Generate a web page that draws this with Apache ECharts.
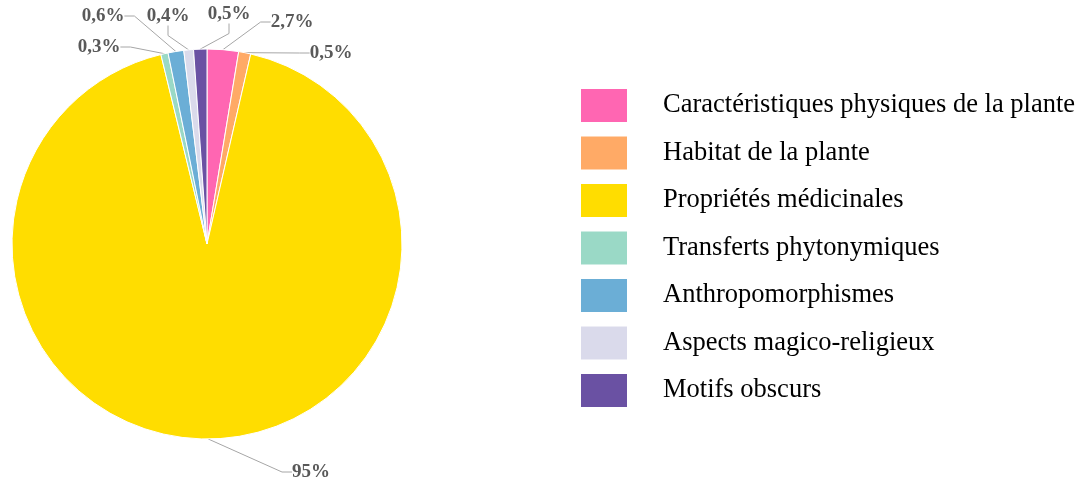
<!DOCTYPE html>
<html>
<head>
<meta charset="utf-8">
<script src="https://cdn.jsdelivr.net/npm/echarts@6/dist/echarts.min.js"></script>
<style>
  html, body { margin: 0; padding: 0; background: #fff; }
  #chart { width: 1086px; height: 483px; }
</style>
</head>
<body>
<div id="chart"></div>
<script>
// categories, clockwise from 12 o'clock
const categories = [
  'Caractéristiques physiques de la plante',
  'Habitat de la plante',
  'Propriétés médicinales',
  'Transferts phytonymiques',
  'Anthropomorphismes',
  'Aspects magico-religieux',
  'Motifs obscurs'
]
// slice sizes as drawn in the picture (%)
const shares = [2.6, 1.0, 92.6, 0.6, 1.3, 0.8, 1.1]
// percent labels as printed on the picture
const printedLabels = ['2,7%', '0,5%', '95%', '0,3%', '0,6%', '0,4%', '0,5%']
const colors = ['#FF66B2', '#FFAA66', '#FFDD00', '#9AD9C6', '#6BAED6', '#DADAEB', '#6A51A3']

// where each percent label sits (label centre, px)
const labelSpots = [[292, 22], [331, 53], [311, 472], [99, 47], [103, 16], [168, 16], [229, 14]]

let myChart = echarts.init(document.getElementById('chart'))

myChart.setOption({
  animation: false,
  color: colors,
  legend: {
    orient: 'vertical',
    left: 579,
    top: 87,
    padding: 0,
    itemWidth: 48,
    itemHeight: 35,
    itemGap: 10.5,
    icon: 'rect',
    selectedMode: false,
    textStyle: {
      fontFamily: 'Liberation Serif',
      fontSize: 26.5,
      color: '#000',
      padding: [0, 0, 0, 30]
    },
    data: categories
  },
  series: [{
    type: 'pie',
    center: [207, 244],
    radius: 195,
    startAngle: 90,
    clockwise: true,
    avoidLabelOverlap: false,
    itemStyle: {
      borderColor: '#fff',
      borderWidth: 1
    },
    label: {
      show: true,
      position: 'outside',
      fontFamily: 'Liberation Serif',
      fontWeight: 'bold',
      fontSize: 19,
      color: '#595959',
      formatter: (p) => printedLabels[p.dataIndex]
    },
    labelLine: {
      show: true,
      length: 10,
      length2: 10,
      lineStyle: { color: '#A6A6A6', width: 1 }
    },
    labelLayout: (params) => {
      const s = labelSpots[params.dataIndex]
      return { x: s[0], y: s[1], align: 'center', verticalAlign: 'middle' }
    },
    emphasis: { disabled: true },
    data: categories.map((name, i) => ({ name: name, value: shares[i] }))
  }]
})
</script>
</body>
</html>
